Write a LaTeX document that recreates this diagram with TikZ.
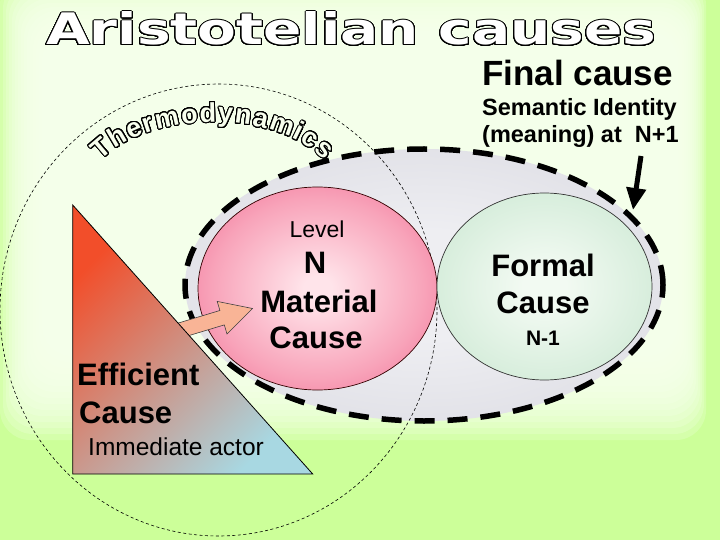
\documentclass[tikz,border=0pt]{standalone}
\usepackage{fontspec}
\setmainfont{Liberation Sans}
\newfontfamily\titlefont{DejaVu Sans}
\usepackage[copies]{contour}
\usetikzlibrary{shapes.geometric,arrows.meta}
\newcommand\setfs[1]{\fontsize{#1pt}{#1pt}\selectfont}
\definecolor{bggreen}{HTML}{CCFF99}
\definecolor{bglight}{HTML}{F8FFEE}
\definecolor{grey0}{HTML}{EEEEF2}
\definecolor{grey1}{HTML}{CFCFD8}
\definecolor{pink0}{HTML}{FFE4EA}
\definecolor{pinkm}{HTML}{F8A4BA}
\definecolor{pink1}{HTML}{F0628C}
\definecolor{pink2}{HTML}{EA4C7A}
\definecolor{green0}{HTML}{F2FAF2}
\definecolor{green1}{HTML}{B6DEC1}
\definecolor{tri1}{HTML}{F24E2A}
\definecolor{tri2}{HTML}{D9A0A2}
\definecolor{tri3}{HTML}{A8D8E2}
\definecolor{arrowfill}{HTML}{F9B496}
\pgfdeclareradialshading{greyball}{\pgfpoint{0bp}{0bp}}{color(0bp)=(grey0); color(10bp)=(grey0); color(50bp)=(grey1)}
\pgfdeclareradialshading{pinkball}{\pgfpoint{0bp}{0bp}}{color(0bp)=(pink0); color(3bp)=(pink0); color(22bp)=(pinkm); color(38bp)=(pink1); color(50bp)=(pink2)}
\pgfdeclareradialshading{greenball}{\pgfpoint{0bp}{0bp}}{color(0bp)=(green0); color(5bp)=(green0); color(50bp)=(green1)}
\contourlength{1pt}
\contournumber{32}
\tikzset{
  lbl/.style={inner sep=0pt, anchor=base},
  lblw/.style={inner sep=0pt, anchor=base west},
  blob/.style={ellipse, inner sep=0pt},
}
\begin{document}
\begin{tikzpicture}[x=1pt,y=-1pt]
\useasboundingbox (0,0) rectangle (720,540);
% background
\fill[bggreen] (0,0) rectangle (720,540);
\foreach \i in {0,...,14}{
  \fill[bglight, opacity=0.22, rounded corners=30pt] ({0+3*\i},{-25+4*\i}) rectangle ({706-2*\i},{440-6*\i});
}
% title
\node[lblw] (title) at (46,45) {\color{white}\contour{black}{\resizebox{610pt}{33pt}{\titlefont\bfseries Aristotelian causes}}};
% grey scope ellipse
\node[blob, shading=greyball, draw=black, line width=5.5pt, dash pattern=on 20pt off 13pt,
      minimum width=478pt, minimum height=272pt] (scope) at (424,285) {};
% thermodynamics boundary
\node[blob, draw=black, line width=0.6pt, dash pattern=on 3pt off 2.5pt,
      minimum width=437pt, minimum height=452pt] (thermo) at (218.5,310) {};
% material and formal
\node[blob, shading=pinkball, draw=black!80!red, line width=0.7pt,
      minimum width=239pt, minimum height=203pt] (material) at (317.5,288.5) {};
\node[blob, shading=greenball, draw=black!80, line width=0.7pt,
      minimum width=215pt, minimum height=187pt] (formalb) at (544.5,286.5) {};
% orange arrow
\filldraw[fill=arrowfill, draw=black!75, line width=0.6pt]
  (175.8,323.8) -- (219.9,310.5) -- (217.2,301.4) -- (252.5,308.5) -- (227.0,334.0)
  -- (224.3,324.9) -- (180.2,338.2) -- cycle;
% triangle
\draw[top color=tri1, middle color=tri2, bottom color=tri3, shading angle=45, line width=0.8pt]
  (72.7,205) -- (72.7,474) -- (312.7,474) -- cycle;
% Thermodynamics arched word
\foreach \ch/\t [count=\k] in {T/-54.6, h/-44.5, e/-35.6, r/-28.8, m/-20.0, o/-10.1, d/-2.16, y/5.39, n/12.97, a/20.73, m/30.71, i/39.28, c/45.83, s/55.13}{
  \pgfmathsetmacro\px{213+130*sin(\t)}
  \pgfmathsetmacro\py{200-78*cos(\t)}
  \pgfmathsetmacro\rot{-atan(0.6*tan(\t))}
  \node[lbl, rotate=\rot] (thm\k) at (\px,\py) {\color{bglight}\contour{black}{\bfseries\setfs{27}\ch}};
}
% texts
\node[lbl, font=\setfs{23}] (level) at (317,237) {Level};
\node[lbl, font=\bfseries\setfs{31}] (nlab) at (315,273) {N};
\node[lbl, font=\bfseries\setfs{31}] (mat) at (319,312) {Material};
\node[lbl, font=\bfseries\setfs{31}] (mcause) at (316,348) {Cause};
\node[lbl, font=\bfseries\setfs{31}] (formal) at (543,276) {Formal};
\node[lbl, font=\bfseries\setfs{31}] (fcause) at (543,313) {Cause};
\node[lbl, font=\bfseries\setfs{21}] (nm1) at (543,345) {N-1};
\node[lblw, font=\bfseries\setfs{31}] (eff) at (77,385) {Efficient};
\node[lblw, font=\bfseries\setfs{31}] (ecause) at (79,423) {Cause};
\node[lblw, font=\setfs{24.5}] (imm) at (88,455) {Immediate actor};
\node[lblw, font=\bfseries\setfs{35}] (final) at (482,86) {Final cause};
\node[lblw, font=\bfseries\setfs{23.5}] (sem1) at (482,116) {Semantic Identity};
\node[lblw, font=\bfseries\setfs{23.5}] (sem2) at (482,143) {(meaning) at~ N+1};
% final cause arrow
\coordinate (fcstart) at (641,156);
\coordinate (fctip) at (633,210);
\draw[line width=5pt, -{Triangle[length=22pt,width=19pt]}] (fcstart) -- (fctip);
\end{tikzpicture}
\end{document}
